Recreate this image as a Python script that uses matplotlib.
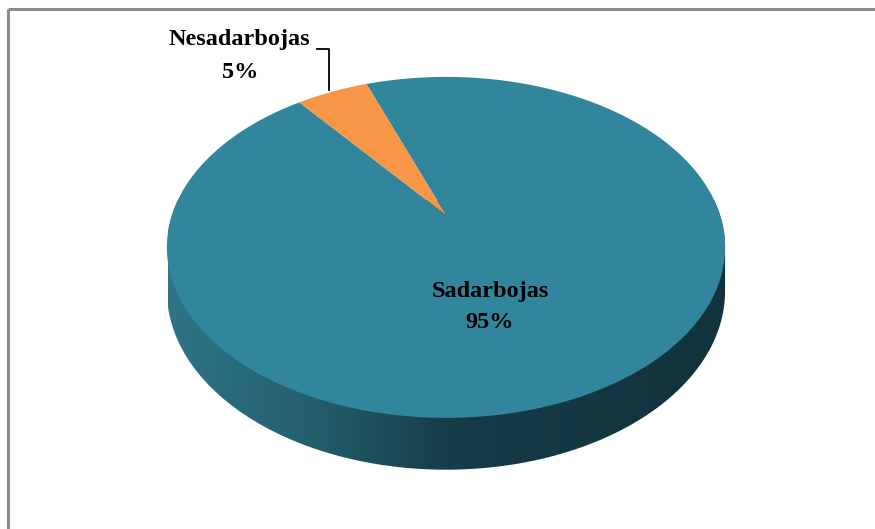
import numpy as np
import matplotlib
matplotlib.use("Agg")
import matplotlib.pyplot as plt
from matplotlib.patches import Polygon
from matplotlib.colors import LinearSegmentedColormap

# data
labels = ["Sadarbojas", "Nesadarbojas"]
values = [95, 5]
colors = ["#31859C", "#F79646"]

# pie geometry (pixels), simple perspective
cx, y0 = 446.0, 215.0
A, B, H = 274.0, 164.3, 42.0
k = 0.19
start = 110.0


def project(phi, z=0.0, r=1.0):
    phi = np.radians(phi)
    u = r * np.cos(phi)
    v = -r * np.sin(phi)
    w = 1 - k * v
    return cx + A * u / w, y0 + (B * v + H * z) / w


fig = plt.figure(figsize=(8.75, 5.29), dpi=100)
ax = fig.add_axes([0, 0, 1, 1])
ax.set_xlim(0, 875)
ax.set_ylim(529, 0)
ax.axis("off")

# frame
ax.plot([7.5, 875], [8.5, 8.5], color="#8a8a8a", lw=2.2, solid_capstyle="butt")
ax.plot([7.5, 7.5], [8.5, 529], color="#8a8a8a", lw=2.2, solid_capstyle="butt")

# side wall
top_back = np.linspace(-11, 191, 200)
bot_front = np.linspace(191, 349, 200)
xs1, ys1 = project(top_back, 0)
xs2, ys2 = project(bot_front, 1)
side = np.column_stack([np.concatenate([xs1, xs2]), np.concatenate([ys1, ys2])])
side_poly = Polygon(side, closed=True, facecolor="none", edgecolor="none")
ax.add_patch(side_poly)
grad = LinearSegmentedColormap.from_list(
    "side", [(0, "#2e7587"), (0.25, "#245f6e"), (0.5, "#173d48"), (1.0, "#12323c")])
img = ax.imshow(np.linspace(0, 1, 256)[None, :], cmap=grad, aspect="auto",
                extent=[168, 726, 480, 200], zorder=1)
img.set_clip_path(side_poly)

# top face slices
total = sum(values)
a1 = start
mids = []
for val, col in zip(values, colors):
    a2 = a1 - val / total * 360
    th = np.linspace(a1, a2, max(int(abs(a2 - a1)) * 2, 10))
    px, py = project(th, 0)
    pts = np.column_stack([np.concatenate([[cx], px]), np.concatenate([[y0], py])])
    ax.add_patch(Polygon(pts, closed=True, facecolor=col, edgecolor="none", zorder=2))
    mids.append((a1 + a2) / 2)
    a1 = a2

pcts = ["{:.0f}%".format(v / total * 100) for v in values]
font = dict(family="Liberation Serif", weight="bold", fontsize=17.5, color="black",
            ha="center", va="center", zorder=3)

ax.text(490, 292, labels[0], **font)
ax.text(490, 323, pcts[0], **font)

ax.text(239, 40, labels[1], **font)
ax.text(240, 72, pcts[1], **font)

ex, ey = project(mids[1], 0)
ax.plot([317, 329, 329], [49, 49, ey - 2], color="black", lw=1.3, zorder=3)

fig.savefig("out.png", dpi=100)
